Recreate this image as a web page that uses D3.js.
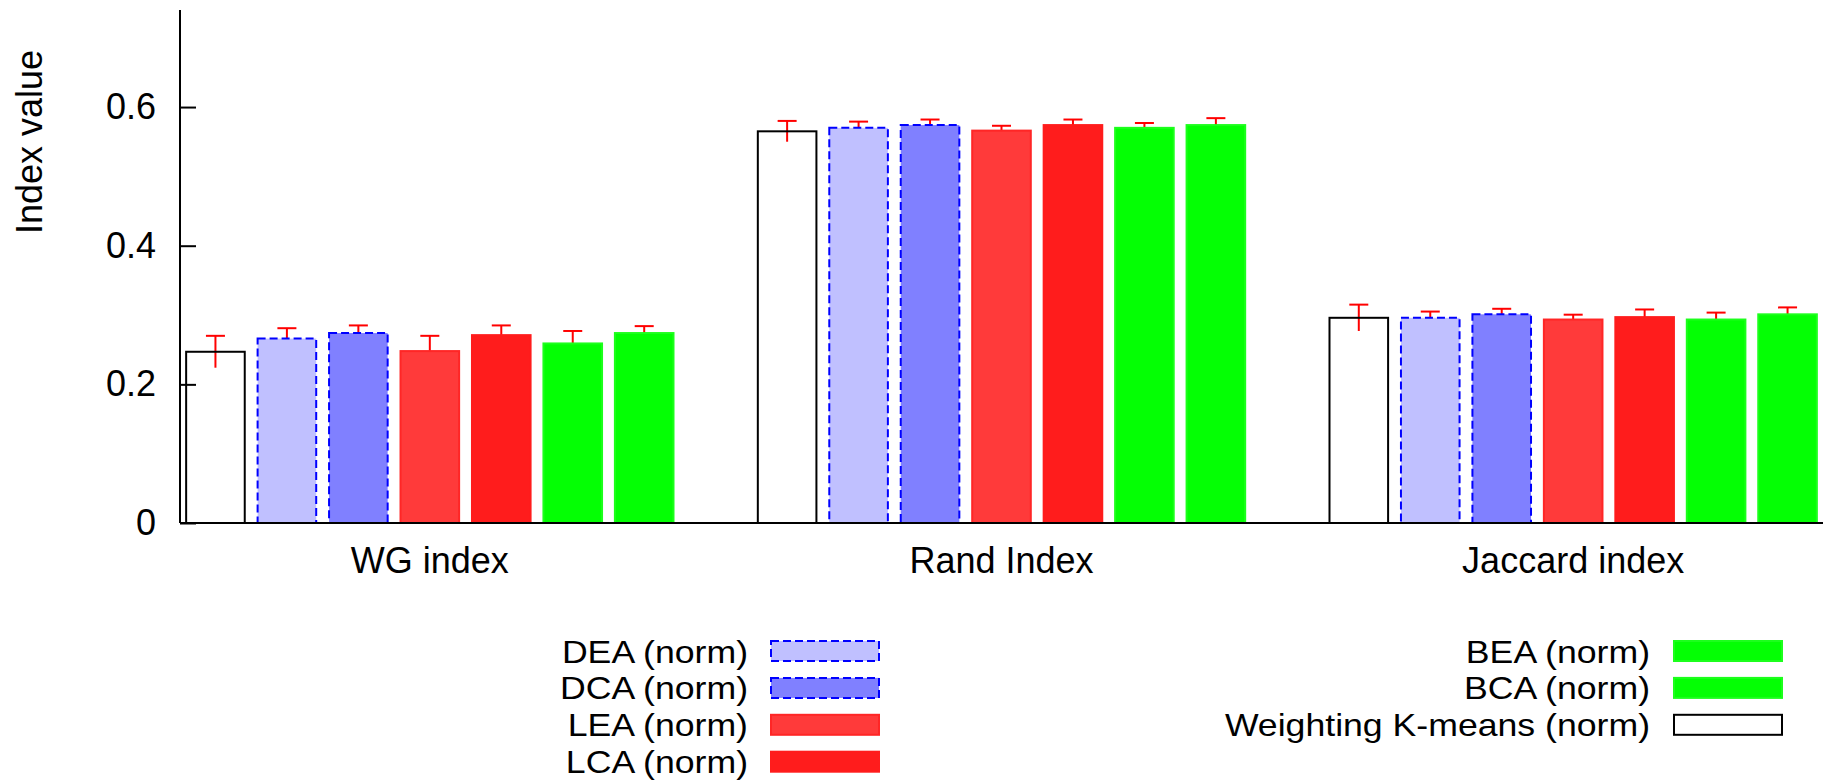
<!DOCTYPE html>
<html>
<head>
<meta charset="utf-8">
<script src="https://cdn.jsdelivr.net/npm/d3@7"></script>
<style>
	html, body { margin: 0; padding: 0; background: #fff; }
	svg { display: block; }
	text { font-family: "Liberation Sans", Arial, sans-serif; fill: #000; }
</style>
</head>
<body>
<svg></svg>
<script>
 //Data
var categories = ['WG index', 'Rand Index', 'Jaccard index'];
var series = ['Weighting K-means (norm)', 'DEA (norm)', 'DCA (norm)', 'LEA (norm)', 'LCA (norm)', 'BEA (norm)', 'BCA (norm)'];
var wkmValues = [0.247, 0.565, 0.296],
		deaValues = [0.266, 0.570, 0.296],
		dcaValues = [0.274, 0.574, 0.301],
		leaValues = [0.248, 0.566, 0.2935],
		lcaValues = [0.271, 0.574, 0.297],
		beaValues = [0.259, 0.570, 0.2935],
		bcaValues = [0.274, 0.574, 0.301];
var wkmErr = [0.023, 0.015, 0.019],
		deaErr = [0.015, 0.009, 0.009],
		dcaErr = [0.011, 0.008, 0.008],
		leaErr = [0.022, 0.007, 0.007],
		lcaErr = [0.014, 0.008, 0.011],
		beaErr = [0.018, 0.007, 0.010],
		bcaErr = [0.010, 0.010, 0.010];
var yTicks = [0, 0.2, 0.4, 0.6];
var yMax = 0.74;

var values = [wkmValues, deaValues, dcaValues, leaValues, lcaValues, beaValues, bcaValues],
		errors = [wkmErr, deaErr, dcaErr, leaErr, lcaErr, beaErr, bcaErr];

 //look of each series (same order as series)
var styles = [
	{ fill: 'none',    stroke: '#000000', dash: null },
	{ fill: '#c0c0ff', stroke: '#0000ff', dash: '8,4' },
	{ fill: '#8080ff', stroke: '#0000ff', dash: '8,4' },
	{ fill: '#ff3a3a', stroke: '#ff2626', dash: null },
	{ fill: '#ff1c1c', stroke: '#ff1c1c', dash: null },
	{ fill: '#04ff04', stroke: '#1cff1c', dash: null },
	{ fill: '#04ff04', stroke: '#1cff1c', dash: null }
];

var W = 1826, H = 781,
		root = d3.select('svg').attr('width', W).attr('height', H);

var NB = series.length,
		SLOT = 1 / (NB + 1),
		BOXW = 0.82 * SLOT;

var x = d3.scaleLinear()
			.domain([-0.437, 2.437])
			.range([180, 1823]),
		y = d3.scaleLinear()
			.domain([0, yMax])
			.range([523, 10]);

 //flat list of bars
var bars = [];
categories.forEach(function(c, g) {
	series.forEach(function(s, k) {
		bars.push({ g: g, k: k, v: values[k][g], e: errors[k][g] });
	});
});
function cx(d) { return x(d.g + (d.k - (NB - 1) / 2) * SLOT); }
var bw = x(BOXW) - x(0);

 //error bars (under the bars)
var eb = root.append('g').attr('class', 'errors')
	.selectAll('g').data(bars).enter().append('g');
eb.append('line')
	.attr('x1', cx).attr('x2', cx)
	.attr('y1', function(d) { return y(d.v - d.e); })
	.attr('y2', function(d) { return y(d.v + d.e); })
	.attr('stroke', '#ff0000').attr('stroke-width', 2);
eb.append('line')
	.attr('x1', function(d) { return cx(d) - 9.5; })
	.attr('x2', function(d) { return cx(d) + 9.5; })
	.attr('y1', function(d) { return y(d.v + d.e); })
	.attr('y2', function(d) { return y(d.v + d.e); })
	.attr('stroke', '#ff0000').attr('stroke-width', 2);

 //bars
root.append('g').attr('class', 'bars')
	.selectAll('rect').data(bars).enter().append('rect')
	.attr('x', function(d) { return cx(d) - bw / 2; })
	.attr('y', function(d) { return y(d.v); })
	.attr('width', bw)
	.attr('height', function(d) { return y(0) - y(d.v); })
	.attr('fill', function(d) { return styles[d.k].fill; })
	.attr('stroke', function(d) { return styles[d.k].stroke; })
	.attr('stroke-width', 2)
	.attr('stroke-dasharray', function(d) { return styles[d.k].dash; });

 //axes
var yAxis = d3.axisLeft(y)
	.tickValues(yTicks)
	.tickFormat(function(d) { return d === 0 ? '0' : d3.format('.1f')(d); })
	.tickSizeInner(-16)
	.tickSizeOuter(0)
	.tickPadding(24);
var ya = root.append('g')
	.attr('transform', 'translate(' + x.range()[0] + ',0)')
	.call(yAxis);
ya.select('.domain').remove();
ya.selectAll('.tick line').attr('stroke', '#000').attr('stroke-width', 2);
ya.selectAll('.tick text')
	.style('font-size', '36px')
	.style('font-family', '"Liberation Sans", Arial, sans-serif')
	.attr('fill', '#000');

root.append('line')
	.attr('x1', x.range()[0]).attr('x2', x.range()[0])
	.attr('y1', y.range()[1]).attr('y2', y(0))
	.attr('stroke', '#000').attr('stroke-width', 2);
root.append('line')
	.attr('x1', x.range()[0]).attr('x2', x.range()[1])
	.attr('y1', y(0)).attr('y2', y(0))
	.attr('stroke', '#000').attr('stroke-width', 2);

 //category labels
root.append('g').selectAll('text').data(categories).enter().append('text')
	.attr('x', function(d, i) { return x(i); })
	.attr('y', 573)
	.attr('text-anchor', 'middle')
	.style('font-size', '36px')
	.text(function(d) { return d; });

root.append('text')
	.attr('transform', 'translate(42,142) rotate(-90)')
	.attr('text-anchor', 'middle')
	.style('font-size', '36px')
	.text('Index value');

 //legend: two columns, rows are tight so the text is a bit smaller and widened
var legendItems = [
	{ k: 1, col: 0, row: 0 },
	{ k: 2, col: 0, row: 1 },
	{ k: 3, col: 0, row: 2 },
	{ k: 4, col: 0, row: 3 },
	{ k: 5, col: 1, row: 0 },
	{ k: 6, col: 1, row: 1 },
	{ k: 0, col: 1, row: 2 }
];
var colText = [748, 1650],
		colBox = [771, 1674],
		rowY0 = 651,
		rowStep = 36.9;
var li = root.append('g').attr('class', 'legend')
	.selectAll('g').data(legendItems).enter().append('g')
	.attr('transform', function(d) { return 'translate(0,' + (rowY0 + d.row * rowStep) + ')'; });
li.append('text')
	.attr('transform', function(d) { return 'translate(' + colText[d.col] + ',11.5) scale(1.15,1)'; })
	.attr('text-anchor', 'end')
	.style('font-size', '31px')
	.text(function(d) { return series[d.k]; });
li.append('rect')
	.attr('x', function(d) { return colBox[d.col]; })
	.attr('y', -10)
	.attr('width', 108)
	.attr('height', 20)
	.attr('fill', function(d) { return styles[d.k].fill === 'none' ? '#fff' : styles[d.k].fill; })
	.attr('stroke', function(d) { return styles[d.k].stroke; })
	.attr('stroke-width', 2)
	.attr('stroke-dasharray', function(d) { return styles[d.k].dash; });
</script>
</body>
</html>
